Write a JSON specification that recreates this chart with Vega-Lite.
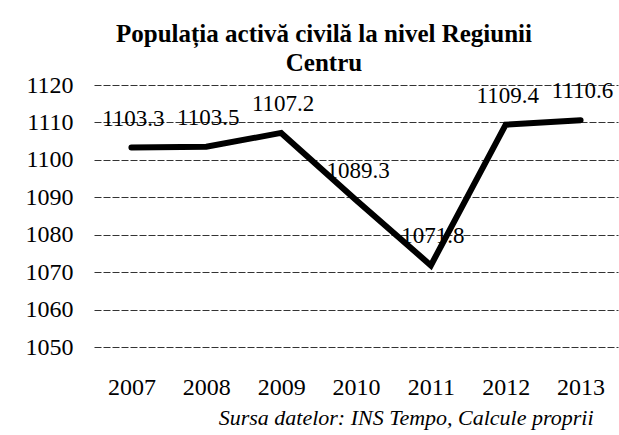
{
  "$schema": "https://vega.github.io/schema/vega-lite/v6.json",
  "width": 524,
  "height": 262,
  "autosize": "none",
  "padding": {"left": 94, "top": 85, "right": 1, "bottom": 88},
  "background": "white",
  "title": {
    "text": ["Populația activă civilă la nivel Regiunii", "Centru"],
    "font": "Liberation Serif",
    "fontSize": 25,
    "fontWeight": "bold",
    "color": "black",
    "anchor": "middle",
    "dx": -32,
    "lineHeight": 29,
    "offset": -3
  },
  "data": {
    "values": [
      {"year": "2007", "value": 1103.3},
      {"year": "2008", "value": 1103.5},
      {"year": "2009", "value": 1107.2},
      {"year": "2010", "value": 1089.3},
      {"year": "2011", "value": 1071.8},
      {"year": "2012", "value": 1109.4},
      {"year": "2013", "value": 1110.6}
    ]
  },
  "encoding": {
    "x": {
      "field": "year",
      "type": "ordinal",
      "scale": {"type": "point", "padding": 0.5},
      "axis": {
        "labelAngle": 0,
        "labelFont": "Liberation Serif",
        "labelFontSize": 24,
        "labelColor": "black",
        "labelPadding": 28,
        "domain": false,
        "ticks": false,
        "grid": false,
        "title": "Sursa datelor: INS Tempo, Calcule proprii",
        "titleFont": "Liberation Serif",
        "titleFontSize": 22,
        "titleFontStyle": "italic",
        "titleFontWeight": "normal",
        "titleColor": "black",
        "titleAnchor": "end",
        "titlePadding": 8,
        "titleX": 499
      }
    },
    "y": {
      "field": "value",
      "type": "quantitative",
      "scale": {"domain": [1050, 1120], "nice": false, "zero": false},
      "axis": {
        "values": [1050, 1060, 1070, 1080, 1090, 1100, 1110, 1120],
        "format": "d",
        "labelFont": "Liberation Serif",
        "labelFontSize": 24,
        "labelColor": "black",
        "labelPadding": 21,
        "domain": false,
        "ticks": false,
        "grid": true,
        "gridColor": "#333333",
        "gridWidth": 1,
        "gridDash": [7, 2],
        "title": null
      }
    }
  },
  "layer": [
    {
      "mark": {"type": "line", "color": "black", "strokeWidth": 6, "strokeCap": "round", "strokeJoin": "miter"}
    },
    {
      "mark": {
        "type": "text",
        "font": "Liberation Serif",
        "fontSize": 23,
        "color": "black",
        "dy": -29,
        "dx": 2
      },
      "encoding": {"text": {"field": "value", "type": "quantitative", "format": ".1f"}}
    }
  ],
  "config": {"view": {"stroke": null}}
}
